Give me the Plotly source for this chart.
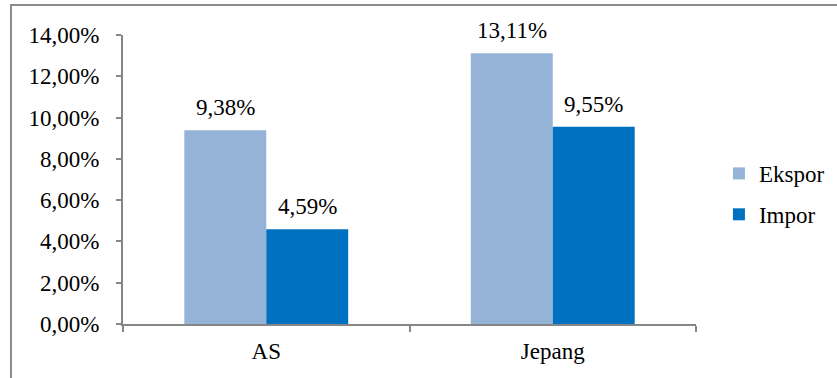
import plotly.graph_objects as go

categories = ["AS", "Jepang"]
ekspor = [9.38, 13.11]
impor = [4.59, 9.55]
y_ticks = [0, 2, 4, 6, 8, 10, 12, 14]

FONT = "Liberation Serif"
FS = 23
BW = 0.286

def fmt(v):
    return f"{v:.2f}".replace(".", ",") + "%"

xs = list(range(len(categories)))
tf = dict(family=FONT, size=FS, color="black")

fig = go.Figure()
fig.add_trace(go.Bar(name="Ekspor", x=xs, y=ekspor, offset=-BW, width=BW,
                     marker=dict(color="#95B3D7", line=dict(width=0)), legendgroup="a"))
fig.add_trace(go.Bar(name="Impor", x=xs, y=impor, offset=0, width=BW,
                     marker=dict(color="#0070C0", line=dict(width=0)), legendgroup="b"))

annotations = []
for i, v in enumerate(ekspor):
    annotations.append(dict(x=i - BW / 2, y=v, text=fmt(v), showarrow=False,
                            yanchor="bottom", yshift=8, font=tf))
for i, v in enumerate(impor):
    annotations.append(dict(x=i + BW / 2, y=v, text=fmt(v), showarrow=False,
                            yanchor="bottom", yshift=8, font=tf))

fig.update_layout(
    width=837, height=378,
    margin=dict(l=123, r=141, t=35, b=54, autoexpand=False),
    paper_bgcolor="white", plot_bgcolor="white",
    barmode="overlay",
    annotations=annotations,
    legend=dict(x=1.040, xanchor="left", y=0.45, yanchor="middle",
                xref="paper", yref="paper",
                font=tf, tracegroupgap=8, traceorder="grouped", itemwidth=30),
    shapes=[dict(type="path", xref="paper", yref="paper",
                 path="M -0.1955,-0.3 L -0.1955,1.1038 L 1.3,1.1038",
                 line=dict(color="#8C8C8C", width=2))],
)
fig.update_xaxes(range=[-0.5, 1.5], tickvals=xs, ticktext=categories, tickfont=tf,
                 ticks="", showline=True, linecolor="#868686", linewidth=2,
                 showgrid=False, zeroline=False, ticklabelstandoff=5,
                 minor=dict(tickmode="linear", tick0=-0.5, dtick=1, ticks="outside",
                            ticklen=6, tickcolor="#868686", tickwidth=2))
fig.update_yaxes(range=[0, 14], tickvals=y_ticks, tickfont=tf,
                 ticktext=[fmt(v) for v in y_ticks],
                 ticks="outside", ticklen=5, tickcolor="#868686", tickwidth=2,
                 showline=True, linecolor="#868686", linewidth=2,
                 showgrid=False, zeroline=False, ticklabelstandoff=12)

fig.write_html("out.html")
